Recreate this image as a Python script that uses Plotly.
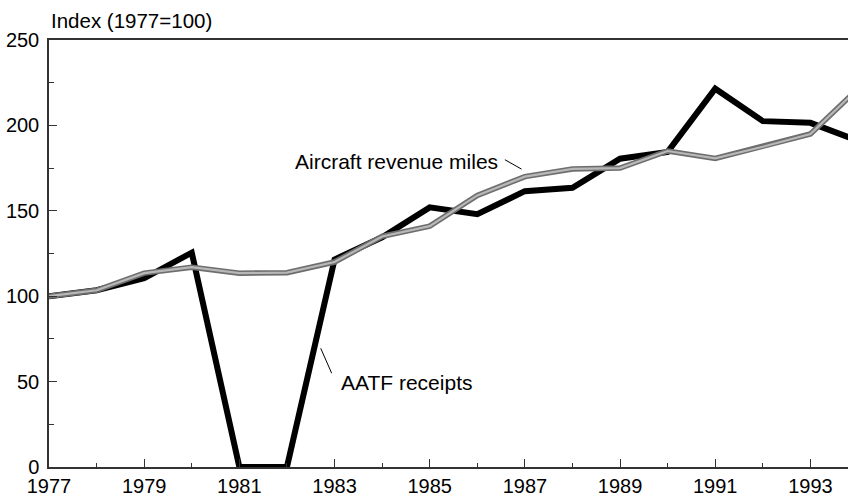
import plotly.graph_objects as go

years = list(range(1977, 1995))
aatf_receipts = [100, 103.5, 110.5, 125.5, 0, 0, 121.5, 134.5, 152, 148, 161.5, 163.5, 180.5, 184.5, 221.5, 202.5, 201.5, 191]
aircraft_miles = [100, 103.5, 113.5, 117, 113.5, 113.8, 120, 135, 141, 159, 170, 174.5, 175, 185, 180.7, 187.5, 195, 221.5]

x_tickvals = list(range(1977, 1995, 2))
x_ticktext = [str(y) for y in x_tickvals]
y_tickvals = [0, 50, 100, 150, 200, 250]

FONT = "Liberation Sans, Arial, Helvetica, sans-serif"

fig = go.Figure()
fig.add_trace(go.Scatter(x=years, y=aatf_receipts, mode="lines",
                         line=dict(color="#000000", width=6), showlegend=False))
fig.add_trace(go.Scatter(x=years, y=aircraft_miles, mode="lines",
                         line=dict(color="#6e6e6e", width=5.5), showlegend=False))
fig.add_trace(go.Scatter(x=years, y=aircraft_miles, mode="lines",
                         line=dict(color="#b8b8b8", width=2.2), showlegend=False))

# labels and leader lines
fig.add_annotation(x=1986.47, y=178.6, xref="x", yref="y", text="Aircraft revenue miles",
                   showarrow=False, xanchor="right", yanchor="middle",
                   font=dict(size=21, color="#000", family=FONT))
fig.add_shape(type="line", x0=1986.58, y0=179.9, x1=1986.93, y1=174.4, xref="x", yref="y",
              line=dict(color="#000", width=1))
fig.add_annotation(x=1983.09, y=49.4, xref="x", yref="y", text="AATF receipts",
                   showarrow=False, xanchor="left", yanchor="middle",
                   font=dict(size=21, color="#000", family=FONT))
fig.add_shape(type="line", x0=1982.71, y0=69.5, x1=1982.94, y1=54.9, xref="x", yref="y",
              line=dict(color="#000", width=1))

fig.add_annotation(x=0, y=1, xref="paper", yref="paper", text="Index (1977=100)",
                   showarrow=False, xanchor="left", yanchor="middle", yshift=20,
                   font=dict(size=20.5, color="#000", family=FONT))

fig.update_layout(
    width=848, height=496,
    margin=dict(l=49, r=0, t=40, b=29, autoexpand=False),
    paper_bgcolor="white", plot_bgcolor="white",
    font=dict(family=FONT, size=20, color="#000"),
    xaxis=dict(range=[1977, 1993.79], tickvals=x_tickvals, ticktext=x_ticktext,
               ticks="inside", ticklen=8, tickwidth=1, tickcolor="#333",
               minor=dict(tickvals=[y for y in years if y % 2 == 0], ticks="inside", ticklen=4, tickcolor="#333"),
               showline=True, linecolor="#333", linewidth=1.5, mirror=True,
               showgrid=False, zeroline=False, automargin=False, ticklabelstandoff=0),
    yaxis=dict(range=[0, 250], tickvals=y_tickvals,
               ticks="inside", ticklen=8, tickwidth=1, tickcolor="#333",
               minor=dict(dtick=25, ticks="inside", ticklen=5, tickcolor="#333"),
               showline=True, linecolor="#333", linewidth=1.5, mirror=False,
               showgrid=False, zeroline=False, automargin=False, ticklabelstandoff=4),
)

fig.write_html("out.html", config={"displayModeBar": False},
               post_script="document.body.style.margin='0';document.body.style.overflow='hidden';")
